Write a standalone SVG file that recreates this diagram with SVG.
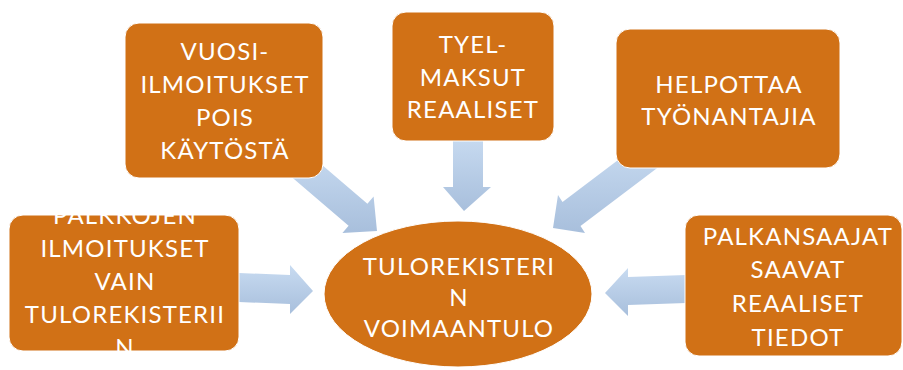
<svg xmlns="http://www.w3.org/2000/svg" width="903" height="370" viewBox="0 0 903 370">
<style>
.box{fill:#D17116;stroke:#ffffff;stroke-width:1}
.arrow{fill:url(#ag)}
.t{font-family:Lato,"Liberation Sans",sans-serif;font-size:24px;fill:#ffffff;text-anchor:middle;letter-spacing:1.2px}
</style>
<defs>
<linearGradient id="ag" x1="0" y1="0" x2="0" y2="1">
<stop offset="0" stop-color="#C8DBF1"/>
<stop offset="1" stop-color="#A8BFDC"/>
</linearGradient>
<clipPath id="clipL"><rect x="9" y="213" width="231" height="139"/></clipPath>
</defs>
<rect width="903" height="370" fill="#ffffff"/>
<g id="connectors">
<polygon class="arrow" points="239,273 290,275 290,265 313,291 290,314 290,304 239,302"/>
<polygon class="arrow" points="605,293 628,268 628,277 686,275 686,303 628,305 628,316"/>
<polygon class="arrow" points="453,135 483,135 483,187 491,187 464,211 443,187 453,187"/>
<polygon class="arrow" points="302.8,148.6 367.4,203.8 373.6,196.6 377,231 342.4,233 348.6,225.8 284,170.6"/>
<polygon class="arrow" points="642.2,141.7 562.5,202 558,195 553,228 585,233 580.5,226 660.2,165.7"/>
</g>
<g id="vuosi">
<rect class="box" x="125" y="23" width="198" height="155" rx="14"/>
<text class="t"><tspan x="225" y="60">VUOSI-</tspan><tspan x="225" y="93">ILMOITUKSET</tspan><tspan x="225" y="126">POIS</tspan><tspan x="225" y="159">KÄYTÖSTÄ</tspan></text>
</g>
<g id="tyel">
<rect class="box" x="392" y="12" width="162" height="129" rx="14"/>
<text class="t"><tspan x="473" y="53">TYEL-</tspan><tspan x="473" y="86">MAKSUT</tspan><tspan x="473" y="118">REAALISET</tspan></text>
</g>
<g id="helpottaa">
<rect class="box" x="616" y="29" width="224" height="139" rx="14"/>
<text class="t"><tspan x="729" y="93">HELPOTTAA</tspan><tspan x="729" y="125">TYÖNANTAJIA</tspan></text>
</g>
<g id="palkkojen">
<rect class="box" x="9" y="215" width="230" height="136" rx="14"/>
<text class="t" clip-path="url(#clipL)"><tspan x="125" y="224">PALKKOJEN</tspan><tspan x="125" y="257">ILMOITUKSET</tspan><tspan x="125" y="290">VAIN</tspan><tspan x="125" y="323">TULOREKISTERII</tspan><tspan x="125" y="356">N</tspan></text>
</g>
<g id="palkansaajat">
<rect class="box" x="685" y="215" width="217" height="141" rx="14"/>
<text class="t"><tspan x="798" y="245">PALKANSAAJAT</tspan><tspan x="798" y="278">SAAVAT</tspan><tspan x="798" y="312">REAALISET</tspan><tspan x="798" y="346">TIEDOT</tspan></text>
</g>
<g id="tulorekisteri">
<ellipse class="box" cx="458" cy="294" rx="134" ry="73"/>
<text class="t"><tspan x="459" y="275">TULOREKISTERI</tspan><tspan x="459" y="306">N</tspan><tspan x="459" y="337">VOIMAANTULO</tspan></text>
</g>
</svg>
